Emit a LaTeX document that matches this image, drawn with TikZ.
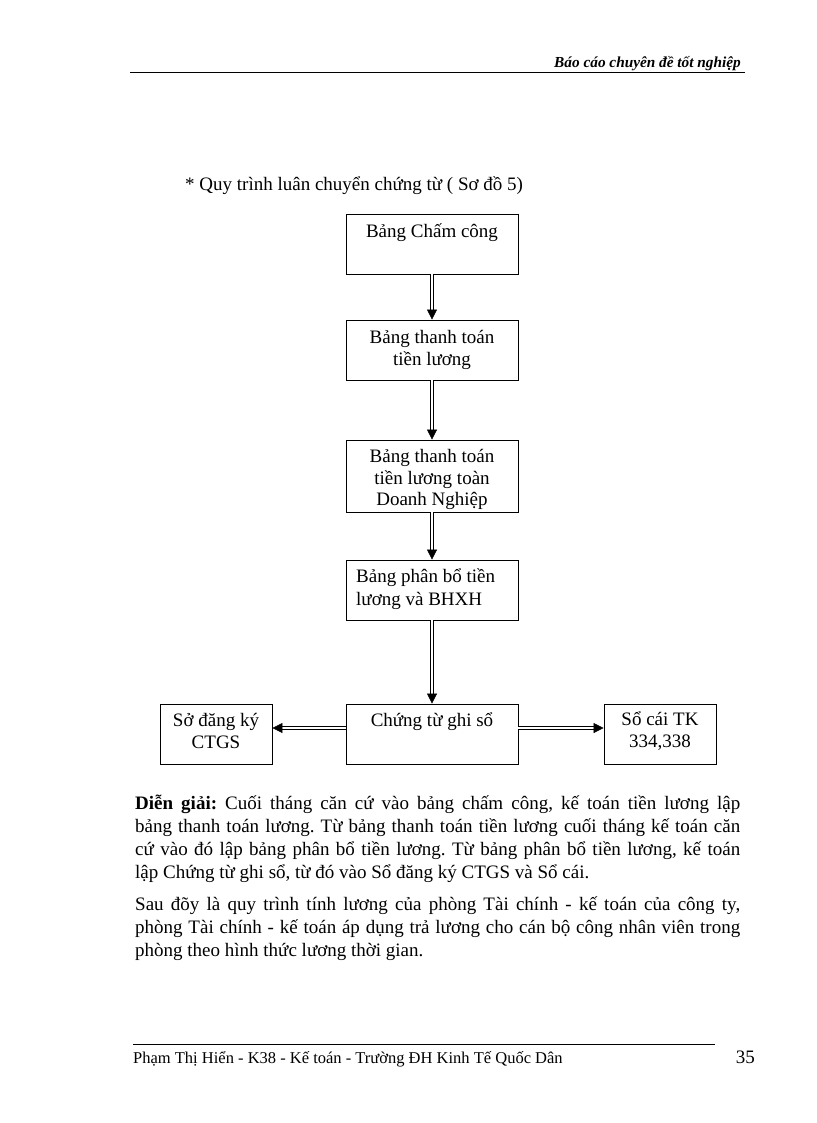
\documentclass[tikz,border=0pt]{standalone}
\usepackage{fontspec}
\setmainfont{Liberation Serif}
\usetikzlibrary{arrows.meta}
\begin{document}
\frenchspacing
\begin{tikzpicture}[x=1pt,y=-1pt,
  box/.style={draw,line width=0.8pt,inner sep=0pt},
  txt/.style={inner sep=0pt,align=center,font=\fontsize{19}{21.5}\selectfont},
  dblarrow/.style={double,double distance=2pt,line width=0.6pt,-{Triangle[length=10pt,width=10pt]}},
  rule/.style={line width=0.8pt}]
\useasboundingbox[fill=white] (0,0) rectangle (816,1123);
% header
\node[inner sep=0pt,anchor=base east,font=\fontsize{15.3}{17}\selectfont\bfseries\itshape] (hdr) at (741,68) {Báo cáo chuyên đề tốt nghiệp};
\coordinate (hl1) at (130,72);
\coordinate (hl2) at (745,72);
\draw[rule] (hl1) -- (hl2);
% title
\node[inner sep=0pt,anchor=base west,font=\fontsize{19}{22}\selectfont] (title) at (185,191) {* Quy trình luân chuyển chứng từ ( Sơ đồ 5)};
% boxes
\node[box,minimum width=172pt,minimum height=60pt] (b1) at (432,244) {};
\node[box,minimum width=172pt,minimum height=60pt] (b2) at (432,350) {};
\node[box,minimum width=172pt,minimum height=72pt] (b3) at (432,476) {};
\node[box,minimum width=172pt,minimum height=60pt] (b4) at (432,590) {};
\node[box,minimum width=172pt,minimum height=60pt] (b5) at (432,734) {};
\node[box,minimum width=112pt,minimum height=60pt] (bl) at (216,734) {};
\node[box,minimum width=112pt,minimum height=60pt] (br) at (660,734) {};
% texts
\node[txt] (t1) at (432,233) {Bảng Chấm công};
\node[txt] (t2) at (432,350) {Bảng thanh toán\\tiền lương};
\node[txt] (t3) at (432,479.5) {Bảng thanh toán\\tiền lương toàn\\Doanh Nghiệp};
\node[txt,align=left,anchor=west,font=\fontsize{19}{23}\selectfont] (t4) at (356,589) {Bảng phân bổ tiền\\lương và BHXH};
\node[txt] (t5) at (432,722) {Chứng từ ghi sổ};
\node[txt,font=\fontsize{19}{22}\selectfont] (tl) at (216,731) {Sở đăng ký\\CTGS};
\node[txt,font=\fontsize{19}{22}\selectfont] (tr) at (660,731) {Sổ cái TK\\334,338};
% arrows
\draw[dblarrow] (b1.south) -- (b2.north);
\draw[dblarrow] (b2.south) -- (b3.north);
\draw[dblarrow] (b3.south) -- (b4.north);
\draw[dblarrow] (b4.south) -- (b5.north);
\draw[dblarrow] ([yshift=6pt]b5.west) -- ([yshift=6pt]bl.east);
\draw[dblarrow] ([yshift=6pt]b5.east) -- ([yshift=6pt]br.west);
% paragraphs
\node[inner sep=0pt,anchor=north west,text width=605pt,align=justify,font=\fontsize{19}{23}\selectfont] (p1) at (135,795)
{\textbf{Diễn giải:} Cuối tháng căn cứ vào bảng chấm công, kế toán tiền lương lập\linebreak
bảng thanh toán lương. Từ bảng thanh toán tiền lương cuối tháng kế toán căn\linebreak
cứ vào đó lập bảng phân bổ tiền lương. Từ bảng phân bổ tiền lương, kế toán\linebreak
lập Chứng từ ghi sổ, từ đó vào Sổ đăng ký CTGS và Sổ cái.};
\node[inner sep=0pt,anchor=north west,text width=605pt,align=justify,font=\fontsize{19}{23}\selectfont] (p2) at (135,897)
{Sau đõy là quy trình tính lương của phòng Tài chính - kế toán của công ty,\linebreak
phòng Tài chính - kế toán áp dụng trả lương cho cán bộ công nhân viên trong\linebreak
phòng theo hình thức lương thời gian.};
% footer
\coordinate (fl1) at (133,1044);
\coordinate (fl2) at (715,1044);
\draw[rule] (fl1) -- (fl2);
\node[inner sep=0pt,anchor=base west,font=\fontsize{16.5}{18}\selectfont] (foot) at (133,1063) {Phạm Thị Hiển - K38 - Kế toán - Trường ĐH Kinh Tế Quốc Dân};
\node[inner sep=0pt,anchor=base east,font=\fontsize{19}{21}\selectfont] (pg) at (755,1063) {35};
\end{tikzpicture}
\end{document}
